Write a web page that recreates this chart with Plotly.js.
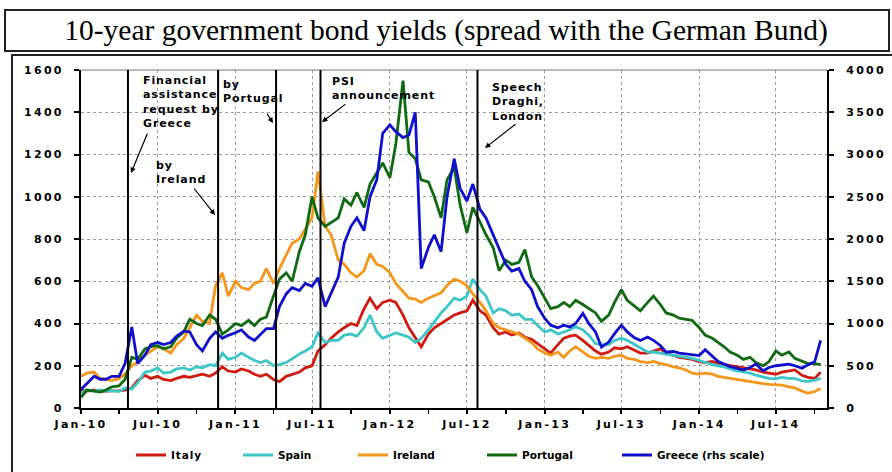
<!DOCTYPE html>
<html>
<head>
<meta charset="utf-8">
<script src="https://cdn.plot.ly/plotly-3.0.1.min.js"></script>
<style>
  html, body { margin: 0; padding: 0; background: #fff; }
  #chart { width: 892px; height: 472px; }
  .xtick text, .ytick text, .y2tick text { letter-spacing: 2.3px; }
  .legendtext { letter-spacing: 0.9px; }
  .annotation-text { letter-spacing: 0.9px; }
</style>
</head>
<body>
<div id="chart"></div>
<script>
// Semi-monthly observation dates
const dates = [
 '2010-01-01','2010-01-15','2010-02-01','2010-02-15','2010-03-01','2010-03-15','2010-04-01','2010-04-15','2010-05-01','2010-05-15','2010-06-01','2010-06-15',
 '2010-07-01','2010-07-15','2010-08-01','2010-08-15','2010-09-01','2010-09-15','2010-10-01','2010-10-15','2010-11-01','2010-11-15','2010-12-01','2010-12-15',
 '2011-01-01','2011-01-15','2011-02-01','2011-02-15','2011-03-01','2011-03-15','2011-04-01','2011-04-15','2011-05-01','2011-05-15','2011-06-01','2011-06-15',
 '2011-07-01','2011-07-15','2011-08-01','2011-08-15','2011-09-01','2011-09-15','2011-10-01','2011-10-15','2011-11-01','2011-11-15','2011-12-01','2011-12-15',
 '2012-01-01','2012-01-15','2012-02-01','2012-02-15','2012-03-01','2012-03-15','2012-04-01','2012-04-15','2012-05-01','2012-05-15','2012-06-01','2012-06-15',
 '2012-07-01','2012-07-15','2012-08-01','2012-08-15','2012-09-01','2012-09-15','2012-10-01','2012-10-15','2012-11-01','2012-11-15','2012-12-01','2012-12-15',
 '2013-01-01','2013-01-15','2013-02-01','2013-02-15','2013-03-01','2013-03-15','2013-04-01','2013-04-15','2013-05-01','2013-05-15','2013-06-01','2013-06-15',
 '2013-07-01','2013-07-15','2013-08-01','2013-08-15','2013-09-01','2013-09-15','2013-10-01','2013-10-15','2013-11-01','2013-11-15','2013-12-01','2013-12-15',
 '2014-01-01','2014-01-15','2014-02-01','2014-02-15','2014-03-01','2014-03-15','2014-04-01','2014-04-15','2014-05-01','2014-05-15','2014-06-01','2014-06-15',
 '2014-07-01','2014-07-15','2014-08-01','2014-08-15','2014-09-01','2014-09-15','2014-10-01','2014-10-15'
];

// Spreads vs German Bund (bp)
const italy = [
 85,80,85,78,80,80,82,85,95,130,
 155,140,150,135,130,140,150,145,155,160,
 150,165,195,175,170,185,175,160,150,160,
 135,125,150,160,170,190,200,270,300,330,
 360,380,400,390,470,520,470,500,510,500,
 440,380,330,290,350,380,400,420,440,450,
 460,510,460,440,380,350,360,345,355,335,
 325,305,280,260,300,330,340,345,320,295,
 270,255,265,285,280,290,275,260,260,270,
 280,260,250,240,235,230,220,215,220,210,
 205,200,195,190,185,180,170,165,160,170,
 175,180,155,145,140,170
];
const spain = [
 70,85,80,85,80,82,78,95,90,120,
 170,175,190,165,170,185,190,180,195,190,
 205,200,260,230,240,260,240,225,215,225,
 200,205,215,235,255,270,290,355,310,320,
 320,345,350,340,380,440,360,330,345,355,
 345,335,310,330,370,410,450,480,520,510,
 530,610,560,530,450,470,460,440,445,420,
 420,390,360,370,350,360,370,385,370,345,
 305,300,300,320,330,320,300,285,265,265,
 260,255,250,245,240,235,225,215,205,200,
 195,185,175,172,165,155,148,140,138,145,
 140,140,128,125,132,140
];
const ireland = [
 150,165,170,140,135,130,140,160,200,220,
 250,270,290,280,260,300,330,380,440,410,
 400,580,640,530,600,570,560,590,600,660,
 590,660,720,780,800,850,900,1120,860,820,
 700,680,640,620,650,730,680,670,640,590,
 550,520,515,500,520,530,545,580,610,600,
 580,540,500,460,400,380,370,360,350,330,
 310,280,260,250,265,240,270,290,265,245,
 235,240,235,245,250,235,230,220,215,220,
 210,205,195,190,180,165,160,165,160,150,
 145,140,135,130,125,120,115,112,110,108,
 100,95,80,70,78,92
];
const portugal = [
 50,85,80,75,85,100,105,135,240,230,
 280,290,295,280,290,330,360,420,400,390,
 440,420,350,370,400,390,415,390,420,430,
 530,610,640,600,740,820,1000,900,860,880,
 900,990,960,1020,950,1060,1110,1160,1090,1250,
 1550,1210,1180,1080,1070,1000,900,1080,1140,960,
 830,950,880,820,760,650,700,680,690,750,
 620,580,520,470,480,500,480,510,490,470,
 450,410,440,500,560,510,480,460,500,530,
 490,450,440,425,420,415,380,345,330,310,
 290,265,250,230,240,215,200,220,270,250,
 265,235,220,210,210,205
];
// Greece on the right-hand scale
const greece = [
 220,295,375,340,340,375,375,525,960,525,
 625,750,775,750,775,850,910,900,750,675,
 825,900,825,860,890,925,840,800,875,940,
 940,1200,1350,1425,1390,1475,1440,1540,1200,1350,
 1550,1950,2150,2250,2100,2500,2700,3250,3350,3270,
 3200,3230,3500,1650,1900,2050,1850,2500,2950,2600,
 2450,2650,2350,2250,2050,1900,1700,1620,1650,1500,
 1400,1200,1060,980,950,980,960,1000,1120,1000,
 900,720,780,880,980,900,830,800,840,800,
 740,660,670,650,640,630,620,690,610,550,
 520,490,470,450,480,520,440,480,500,510,
 520,500,470,510,550,800
];

const seriesNames = ['Italy', 'Spain', 'Ireland', 'Portugal', 'Greece (rhs scale)'];
const seriesColors = ['#d01a10', '#3cc6c6', '#f4961a', '#0f6a12', '#1010cc'];

const tickVals = ['2010-01-01','2010-07-01','2011-01-01','2011-07-01','2012-01-01','2012-07-01','2013-01-01','2013-07-01','2014-01-01','2014-07-01'];
const tickText = ['Jan-10','Jul-10','Jan-11','Jul-11','Jan-12','Jul-12','Jan-13','Jul-13','Jan-14','Jul-14'];

// Event dates (vertical lines)
const eventDates = ['2010-04-22','2010-11-21','2011-04-07','2011-07-21','2012-07-26'];
const eventLabels = [
  'Financial<br>assistance<br>request by<br>Greece',
  'by<br>Ireland',
  'by<br>Portugal',
  'PSI<br>announcement',
  'Speech<br>Draghi,<br>London'
];

const allSeries = [italy, spain, ireland, portugal, greece];
const legendIds = ['legend', 'legend2', 'legend3', 'legend4', 'legend5'];
const traces = allSeries.map((vals, i) => ({
  type: 'scatter', mode: 'lines',
  x: dates, y: vals,
  name: seriesNames[i],
  yaxis: i === 4 ? 'y2' : 'y',
  legend: legendIds[i],
  line: { color: seriesColors[i], width: 2.8 },
  hoverinfo: 'skip'
}));

// helpers: pixel -> paper
const L = 81, T = 70, W = 746, H = 338;
const px = v => (v - L) / W;
const py = v => (T + H - v) / H;

const tickFont = { family: 'DejaVu Sans', size: 11, color: '#000', weight: 'bold' };
const legendFont = { family: 'DejaVu Sans', size: 10.5, color: '#000', weight: 'bold' };
const legendX = [131, 238, 353, 482, 617];
const layoutLegends = {};
legendIds.forEach((id, i) => {
  layoutLegends[id] = {
    orientation: 'h', x: px(legendX[i]), xanchor: 'left',
    y: py(455), yanchor: 'middle', font: legendFont,
    bgcolor: 'rgba(0,0,0,0)', borderwidth: 0
  };
});

const shapes = [
  // title box
  { type: 'rect', xref: 'paper', yref: 'paper', x0: px(5), x1: px(889), y0: py(51), y1: py(10),
    line: { color: '#222', width: 2 }, fillcolor: 'rgba(0,0,0,0)', layer: 'above' },
  // chart frame
  { type: 'rect', xref: 'paper', yref: 'paper', x0: px(12), x1: px(905), y0: py(490), y1: py(55),
    line: { color: '#222', width: 2 }, fillcolor: 'rgba(0,0,0,0)', layer: 'below' },
  // top border of plot area
  { type: 'line', xref: 'paper', yref: 'paper', x0: 0, x1: 1, y0: 1, y1: 1,
    line: { color: '#777', width: 1 }, layer: 'below' }
];
eventDates.forEach(d => shapes.push({
  type: 'line', xref: 'x', yref: 'paper', x0: d, x1: d, y0: 0, y1: 1,
  line: { color: '#000', width: 2 }, layer: 'above'
}));

const annFont = { family: 'DejaVu Sans', size: 11, color: '#000', weight: 'bold' };
const textPos = [[141, 72], [154, 157], [221, 76], [330, 73], [490, 79]];
const arrowHeads = [[131, 173], [215, 215], [273, 123], [322, 122], [485, 148]];
const arrowTails = [[148, 132], [193, 187], [266, 112], [347, 103], [517, 123]];
const annotations = [];
eventLabels.forEach((t, i) => {
  annotations.push({
    xref: 'paper', yref: 'paper', x: px(textPos[i][0]), y: py(textPos[i][1]),
    xanchor: 'left', yanchor: 'top', align: 'left', text: t, showarrow: false, font: annFont
  });
  annotations.push({
    xref: 'paper', yref: 'paper', x: px(arrowHeads[i][0]), y: py(arrowHeads[i][1]),
    text: '', showarrow: true, arrowhead: 2, arrowsize: 0.9, arrowwidth: 1.2, arrowcolor: '#000',
    ax: arrowTails[i][0] - arrowHeads[i][0], ay: arrowTails[i][1] - arrowHeads[i][1]
  });
});

const layout = Object.assign({
  width: 892, height: 472,
  margin: { l: L, r: 892 - L - W, t: T, b: 472 - T - H, autoexpand: false },
  paper_bgcolor: '#fff', plot_bgcolor: '#fff',
  title: {
    text: '10-year government bond yields (spread with the German Bund)',
    font: { family: 'Liberation Serif', size: 29.5, color: '#000' },
    x: 0.5, xref: 'container', xanchor: 'center',
    y: 1 - 30 / 472, yref: 'container', yanchor: 'middle'
  },
  showlegend: true,
  xaxis: {
    type: 'date', range: ['2010-01-01', '2014-10-30'], automargin: false,
    tickmode: 'array', tickvals: tickVals, ticktext: tickText,
    ticks: 'outside', ticklen: 4, tickwidth: 2, tickcolor: '#000',
    minor: { dtick: 'M3', tick0: '2010-01-01', ticks: 'outside', ticklen: 4, tickwidth: 1.5, tickcolor: '#000', showgrid: false },
    showgrid: true, gridcolor: '#999', griddash: 'dot', gridwidth: 1,
    showline: true, linecolor: '#000', linewidth: 2,
    zeroline: false, tickfont: tickFont, ticklabelstandoff: 1
  },
  yaxis: {
    range: [0, 1600], dtick: 200, tick0: 0, automargin: false,
    ticks: 'outside', ticklen: 5, tickwidth: 2, tickcolor: '#000',
    showgrid: true, gridcolor: '#999', griddash: 'dot', gridwidth: 1,
    showline: true, linecolor: '#000', linewidth: 2,
    zeroline: false, tickfont: tickFont, ticklabelstandoff: 8
  },
  yaxis2: {
    overlaying: 'y', side: 'right', range: [0, 4000], dtick: 500, tick0: 0, automargin: false,
    ticks: 'outside', ticklen: 5, tickwidth: 2, tickcolor: '#000',
    showgrid: false, showline: true, linecolor: '#000', linewidth: 2,
    zeroline: false, tickfont: tickFont, ticklabelstandoff: 10
  },
  shapes: shapes,
  annotations: annotations
}, layoutLegends);

Plotly.newPlot('chart', traces, layout, { staticPlot: true, displayModeBar: false });
</script>
</body>
</html>
